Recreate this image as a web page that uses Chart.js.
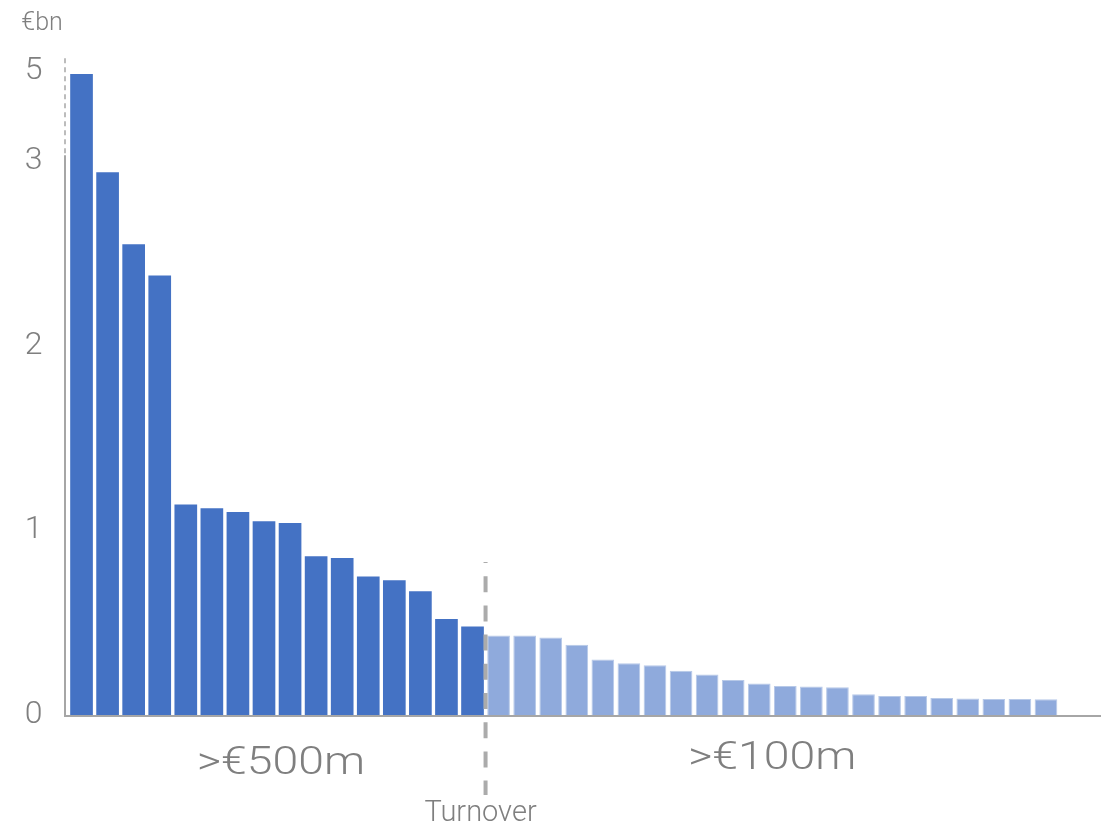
<!DOCTYPE html>
<html>
<head>
<meta charset="utf-8">
<script src="https://cdn.jsdelivr.net/npm/chart.js@4.4.1/dist/chart.umd.min.js"></script>
<style>
  html, body { margin: 0; padding: 0; background: #ffffff; }
  #wrap { width: 1120px; height: 828px; }
</style>
</head>
<body>
<div id="wrap"><canvas id="c" width="1120" height="828"></canvas></div>
<script>
// ---------------- data ----------------
const over500m = [4.93, 2.94, 2.55, 2.38, 1.14, 1.12, 1.10, 1.05, 1.04, 0.86, 0.85, 0.75, 0.73, 0.67, 0.52, 0.48];
const over100m = [0.43, 0.43, 0.42, 0.38, 0.30, 0.28, 0.27, 0.24, 0.22, 0.19, 0.17, 0.157, 0.155, 0.15, 0.112, 0.103, 0.103, 0.092, 0.09, 0.087, 0.087, 0.085];
const companies = over500m.concat(over100m).map((v, i) => 'Company ' + (i + 1));
const yTicks = [0, 1, 2, 3, 5];
const groupLabels = ['>€500m', '>€100m'];
const unitLabel = '€bn';
const dividerLabel = 'Turnover';

// broken axis: values above 3 are compressed
const BREAK_AT = 3;
const BREAK_FACTOR = 0.2444;
function compress(v) { return v > BREAK_AT ? BREAK_AT + (v - BREAK_AT) * BREAK_FACTOR : v; }

const Linear = Chart.LinearScale || Chart.registry.getScale('linear');
class BrokenLinearScale extends Linear {
  determineDataLimits() {
    super.determineDataLimits();
    this.min = compress(this.min);
    this.max = compress(this.max);
  }
  getPixelForValue(v) {
    return v === null || v === undefined ? NaN : super.getPixelForValue(compress(v));
  }
}
BrokenLinearScale.id = 'brokenLinear';
BrokenLinearScale.defaults = Linear.defaults;
Chart.register(BrokenLinearScale);

const DARK = '#4472C4';
const LIGHT = '#8FAADC';
const GREY_TEXT = '#7F7F7F';
const GREY_LINE = '#A6A6A6';
const FONT = 'Roboto';

const values = over500m.concat(over100m);
const colors = values.map((v, i) => i < over500m.length ? DARK : LIGHT);
const borders = values.map((v, i) => i < over500m.length ? DARK : '#B7C9E8');
const borderW = values.map((v, i) => i < over500m.length ? 0 : 1);

const decor = {
  id: 'decor',
  beforeDatasetsDraw(chart) {
    const { ctx, chartArea: a, scales: { y } } = chart;
    const ax = a.left - 3.5;
    const y0 = y.getPixelForValue(0);
    const yb = y.getPixelForValue(BREAK_AT);
    ctx.save();
    ctx.strokeStyle = GREY_LINE;
    ctx.lineWidth = 2;
    ctx.beginPath();
    ctx.moveTo(ax - 1, y0 + 1);
    ctx.lineTo(a.right + 42, y0 + 1);
    ctx.stroke();
    ctx.beginPath();
    ctx.moveTo(ax, y0 + 1);
    ctx.lineTo(ax, yb - 6);
    ctx.stroke();
    ctx.lineWidth = 1.5;
    ctx.setLineDash([5, 4]);
    ctx.beginPath();
    ctx.moveTo(ax, yb - 8);
    ctx.lineTo(ax, a.top);
    ctx.stroke();
    ctx.restore();
  },
  afterDatasetsDraw(chart) {
    const { ctx, chartArea: a, scales: { x } } = chart;
    const n1 = over500m.length;
    const sep = (x.getPixelForValue(n1 - 1) + x.getPixelForValue(n1)) / 2;
    ctx.save();
    ctx.strokeStyle = '#ABABAB';
    ctx.lineWidth = 4;
    ctx.setLineDash([16, 13.2]);
    ctx.lineDashOffset = 15;
    ctx.beginPath();
    ctx.moveTo(sep, a.bottom - 153);
    ctx.lineTo(sep, a.bottom + 80);
    ctx.stroke();
    ctx.setLineDash([]);

    ctx.fillStyle = GREY_TEXT;
    ctx.textAlign = 'center';
    ctx.textBaseline = 'alphabetic';
    const c1 = (a.left + sep) / 2 + 4;
    const c2 = (sep + a.right) / 2;
    ctx.font = '300 38px ' + FONT;
    ctx.save(); ctx.translate(c1, a.bottom + 59); ctx.scale(1.22, 1); ctx.fillText(groupLabels[0], 0, 0); ctx.restore();
    ctx.save(); ctx.translate(c2, a.bottom + 54); ctx.scale(1.22, 1); ctx.fillText(groupLabels[1], 0, 0); ctx.restore();
    ctx.font = '300 29px ' + FONT;
    ctx.fillText(dividerLabel, sep - 5, a.bottom + 106);
    ctx.font = '300 25px ' + FONT;
    ctx.fillText(unitLabel, 42, 30);
    ctx.restore();
  }
};

new Chart(document.getElementById('c'), {
  type: 'bar',
  data: {
    labels: companies,
    datasets: [{
      data: values,
      backgroundColor: colors,
      borderColor: borders,
      borderWidth: borderW,
      barPercentage: 0.87,
      categoryPercentage: 1.0
    }]
  },
  options: {
    responsive: false,
    animation: false,
    devicePixelRatio: 1,
    layout: { padding: { left: 0, right: 61, top: 56, bottom: 113 } },
    plugins: { legend: { display: false }, tooltip: { enabled: false }, title: { display: false } },
    scales: {
      x: { display: false, grid: { display: false } },
      y: {
        type: 'brokenLinear',
        min: 0,
        max: 5.33,
        bounds: 'data',
        grid: { display: false },
        border: { display: false },
        afterBuildTicks: (s) => { s.ticks = yTicks.map(v => ({ value: v })); },
        afterFit: (s) => { s.width = 68.5; },
        ticks: {
          padding: 18,
          color: GREY_TEXT,
          font: { family: FONT, size: 32, weight: 300 },
          autoSkip: false,
          callback: (v) => String(v)
        }
      }
    }
  },
  plugins: [decor]
});
</script>
</body>
</html>
